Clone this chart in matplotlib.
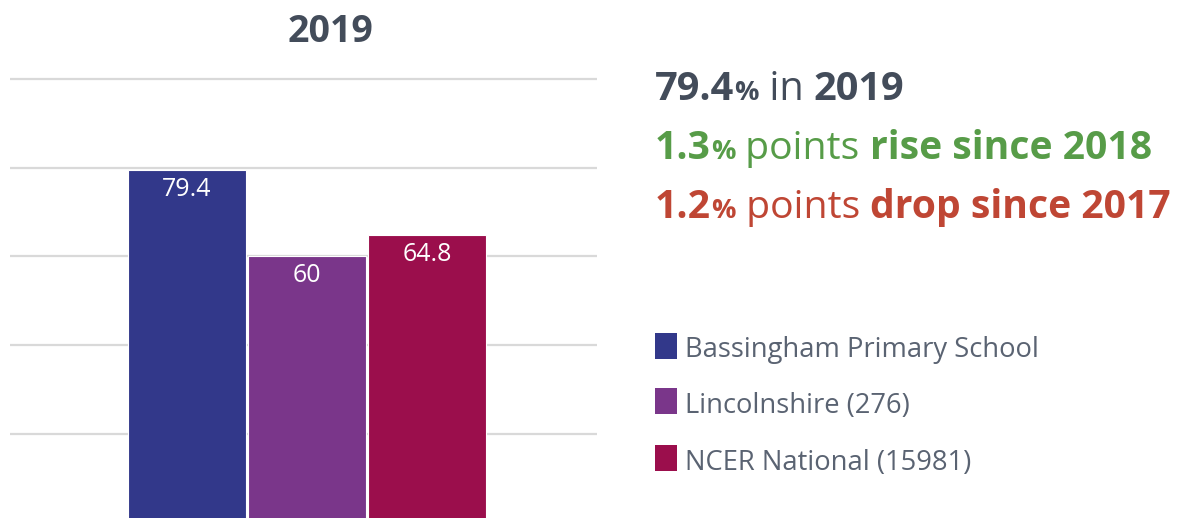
import matplotlib
matplotlib.use("Agg")
import matplotlib.pyplot as plt

# ---- data ----
categories = ["Bassingham Primary School", "Lincolnshire (276)", "NCER National (15981)"]
values = [79.4, 60, 64.8]
value_labels = ["79.4", "60", "64.8"]
bar_colors = ["#32388a", "#7a368a", "#9b0e4c"]
title = "2019"
yticks = [20, 40, 60, 80, 100]

W, H = 1182, 518
DPI = 100
plt.rcParams['font.family'] = ['Open Sans', 'DejaVu Sans']

fig = plt.figure(figsize=(W / DPI, H / DPI), dpi=DPI)
fig.patch.set_facecolor("white")

# axes: pixel x 10..597, pixel y 60..518 (value = (522.5 - y)/4.435)
def yval(py):
    return (522.5 - py) / 4.435

ax = fig.add_axes([10 / W, 0, 587 / W, (518 - 60) / H])
x = list(range(len(values)))
bars = ax.bar(x, values, width=0.98, color=bar_colors, edgecolor="white", linewidth=0.8, zorder=3)
ax.set_xlim((10 - 187) / 120, (597 - 187) / 120)
ax.set_ylim(yval(518), yval(60))
ax.set_yticks(yticks)
ax.yaxis.grid(True, color="#d9d9d9", linewidth=1.6, zorder=0)
ax.set_axisbelow(True)
ax.tick_params(left=False, bottom=False, labelleft=False, labelbottom=False)
for s in ax.spines.values():
    s.set_visible(False)

for xi, v, lab in zip(x, values, value_labels):
    ax.annotate(lab, xy=(xi, v), xytext=(0, -26 * 72 / DPI), textcoords="offset points",
                ha="center", va="baseline", color="white", fontsize=18)

fig.text(330 / W, 1 - 42 / H, title, ha="center", va="baseline",
         fontsize=27, fontweight="bold", color="#434c5a")

renderer = fig.canvas.get_renderer()

def rich(px, py, parts):
    for s, size, weight, color in parts:
        t = fig.text(px / W, 1 - py / H, s, fontsize=size, fontweight=weight,
                     color=color, ha="left", va="baseline")
        bb = t.get_window_extent(renderer)
        px = bb.x1

dark = "#434c5a"
green = "#579c48"
red = "#bf4634"
rich(655, 100, [("79.4", 28.6, "bold", dark), ("%", 19.5, "bold", dark),
                (" in ", 28.6, "normal", dark), ("2019", 28.6, "bold", dark)])
rich(655, 159, [("1.3", 28.2, "bold", green), ("%", 19.5, "bold", green),
                (" points ", 28.2, "normal", green), ("rise since 2018", 28.2, "bold", green)])
rich(655, 218, [("1.2", 28.2, "bold", red), ("%", 19.5, "bold", red),
                (" points ", 28.2, "normal", red), ("drop since 2017", 28.2, "bold", red)])

# legend
legend_rows = [(333, 357), (388, 413), (445, 470)]
for (top, base), lab, col in zip(legend_rows, categories, bar_colors):
    fig.patches.append(plt.Rectangle((655 / W, 1 - (top + 26) / H), 22 / W, 26 / H,
                                     transform=fig.transFigure, facecolor=col,
                                     edgecolor="none"))
    fig.text(685 / W, 1 - base / H, lab, fontsize=19.7, color="#5a6372",
             ha="left", va="baseline")

fig.savefig("out.png", dpi=DPI)
